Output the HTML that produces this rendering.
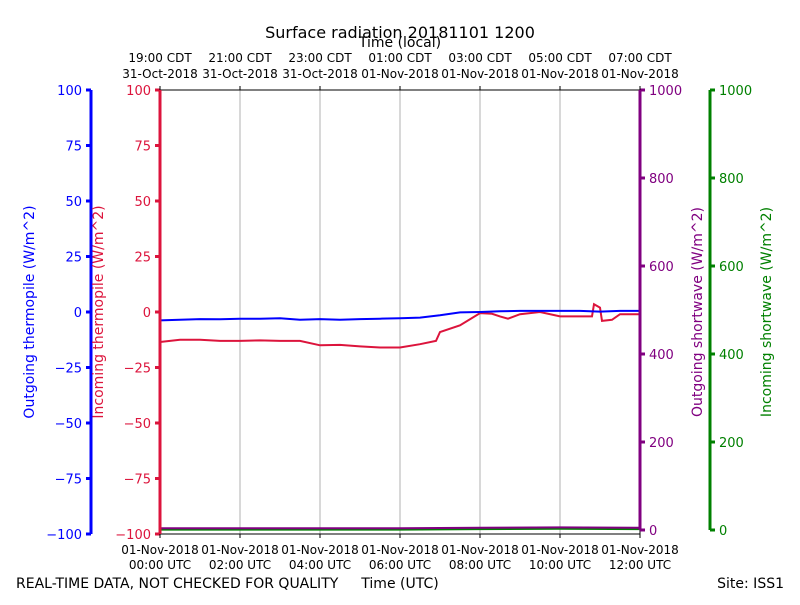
<!DOCTYPE html>
<html><head><meta charset="utf-8"><style>
body{margin:0;background:#fff;font-family:"Liberation Sans","DejaVu Sans",sans-serif}
svg text{font-family:"DejaVu Sans","Liberation Sans",sans-serif}
</style></head><body>
<svg id="c" width="800" height="600" xmlns="http://www.w3.org/2000/svg"></svg>
<script>
const outTimes=[0,0.5,1,1.5,2,2.5,3,3.5,4,4.5,5,5.5,6,6.5,7,7.5,8,8.5,9,9.5,10,10.5,11,11.5,12];
const outThermo=[-3.8,-3.5,-3.2,-3.3,-3,-3,-2.8,-3.5,-3.2,-3.5,-3.2,-3,-2.8,-2.5,-1.5,-0.2,0,0.3,0.5,0.5,0.5,0.5,0.2,0.5,0.5];
const inTimes=[0,0.5,1,1.5,2,2.5,3,3.5,4,4.5,5,5.5,6,6.5,6.9,7,7.5,8,8.3,8.5,8.7,9,9.5,10,10.5,10.8,10.85,11,11.05,11.3,11.5,12];
const inThermo=[-13.5,-12.5,-12.5,-13,-13,-12.8,-13,-13,-15,-14.8,-15.5,-16,-16,-14.5,-13,-9,-6,-0.5,-0.8,-2,-3,-1,0,-2,-2,-2,3.5,2,-4,-3.5,-1,-1];
const swTimes=[0,3,6,8,10,12];
const outSW=[4,4,4,5,6,5];
const inSW=[1,1,1,2,3,2];
const thermoTicks=[100,75,50,25,0,-25,-50,-75,-100];
const swTicks=[0,200,400,600,800,1000];
const topLabels=[["19:00 CDT","31-Oct-2018"],["21:00 CDT","31-Oct-2018"],["23:00 CDT","31-Oct-2018"],["01:00 CDT","01-Nov-2018"],["03:00 CDT","01-Nov-2018"],["05:00 CDT","01-Nov-2018"],["07:00 CDT","01-Nov-2018"]];
const botLabels=[["01-Nov-2018","00:00 UTC"],["01-Nov-2018","02:00 UTC"],["01-Nov-2018","04:00 UTC"],["01-Nov-2018","06:00 UTC"],["01-Nov-2018","08:00 UTC"],["01-Nov-2018","10:00 UTC"],["01-Nov-2018","12:00 UTC"]];
const X0=160,X1=640,Y0=90,Y1=534;
const x=h=>X0+h*(X1-X0)/12;
const yT=v=>312-v*(Y1-Y0)/200;
const yS=v=>530-v*0.44;
const svg=document.getElementById('c');
function el(t,a,txt){const e=document.createElementNS('http://www.w3.org/2000/svg',t);for(const k in a)e.setAttribute(k,a[k]);if(txt!==undefined)e.textContent=txt;svg.appendChild(e);return e;}
// grid
for(let i=1;i<6;i++){const g=el('line',{x1:x(i*2),x2:x(i*2),y1:Y0,y2:Y1,stroke:'#b0b0b0','stroke-width':1});

}
// frame
let f=el('rect',{x:X0,y:Y0,width:X1-X0,height:Y1-Y0,fill:'none',stroke:'#000','stroke-width':1});


// lines
function line(ts,vs,fy,col,name){const p=ts.map((t,i)=>x(t).toFixed(1)+','+fy(vs[i]).toFixed(1)).join(' ');
const l=el('polyline',{points:p,fill:'none',stroke:col,'stroke-width':2});

}
line(swTimes,inSW,yS,'green','incoming-shortwave-line');
line(swTimes,outSW,yS,'purple','outgoing-shortwave-line');
line(inTimes,inThermo,yT,'crimson','incoming-thermopile-line');
line(outTimes,outThermo,yT,'blue','outgoing-thermopile-line');
// axes
function axis(ax,col,ticks,fy,side,name){
 const a=el('line',{x1:ax,x2:ax,y1:fy(ticks[0]),y2:fy(ticks[ticks.length-1]),stroke:col,'stroke-width':3});
 
 
 ticks.forEach(v=>{const yy=fy(v);
  el('line',{x1:ax,x2:ax+side*5,y1:yy,y2:yy,stroke:col,'stroke-width':3});
  const t=el('text',{x:ax+side*9,y:yy+5,fill:col,'font-size':13,'text-anchor':side<0?'end':'start'},String(v).replace('-','−'));
  
  });
}
axis(91,'blue',thermoTicks,yT,-1,'outgoing-thermopile-axis');
axis(160,'crimson',thermoTicks,yT,-1,'incoming-thermopile-axis');
axis(640,'purple',swTicks,yS,1,'outgoing-shortwave-axis');
axis(710,'green',swTicks,yS,1,'incoming-shortwave-axis');
// time labels
for(let i=0;i<7;i++){const xx=x(i*2);
 el('line',{x1:xx,x2:xx,y1:Y0,y2:Y0-4,stroke:'#000'});
 el('line',{x1:xx,x2:xx,y1:Y1,y2:Y1+4,stroke:'#000'});
 let t=el('text',{x:xx,y:62,'font-size':12,'text-anchor':'middle'},topLabels[i][0]);
 
 
 t=el('text',{x:xx,y:78,'font-size':12,'text-anchor':'middle'},topLabels[i][1]);
 
 
 t=el('text',{x:xx,y:554,'font-size':12,'text-anchor':'middle'},botLabels[i][0]);
 
 
 t=el('text',{x:xx,y:569,'font-size':12,'text-anchor':'middle'},botLabels[i][1]);
 
 }
function txt(a,s,name){const t=el('text',a,s);}
txt({x:400,y:38,'font-size':16,'text-anchor':'middle'},'Surface radiation 20181101 1200','chart-title');
txt({x:400,y:47,'font-size':14,'text-anchor':'middle'},'Time (local)','top-axis-title');
txt({x:16,y:588,'font-size':14},'REAL-TIME DATA, NOT CHECKED FOR QUALITY','quality-note');
txt({x:400,y:588,'font-size':14,'text-anchor':'middle'},'Time (UTC)','x-axis-title');
txt({x:784,y:588,'font-size':14,'text-anchor':'end'},'Site: ISS1','site-label');
txt({x:34,y:312,'font-size':14,'text-anchor':'middle',fill:'blue',transform:'rotate(-90 34 312)'},'Outgoing thermopile (W/m^2)','outgoing-thermopile-title');
txt({x:103,y:312,'font-size':14,'text-anchor':'middle',fill:'crimson',transform:'rotate(-90 103 312)'},'Incoming thermopile (W/m^2)','incoming-thermopile-title');
txt({x:702,y:312,'font-size':14,'text-anchor':'middle',fill:'purple',transform:'rotate(-90 702 312)'},'Outgoing shortwave (W/m^2)','outgoing-shortwave-title');
txt({x:771,y:312,'font-size':14,'text-anchor':'middle',fill:'green',transform:'rotate(-90 771 312)'},'Incoming shortwave (W/m^2)','incoming-shortwave-title');
</script>
</body></html>
